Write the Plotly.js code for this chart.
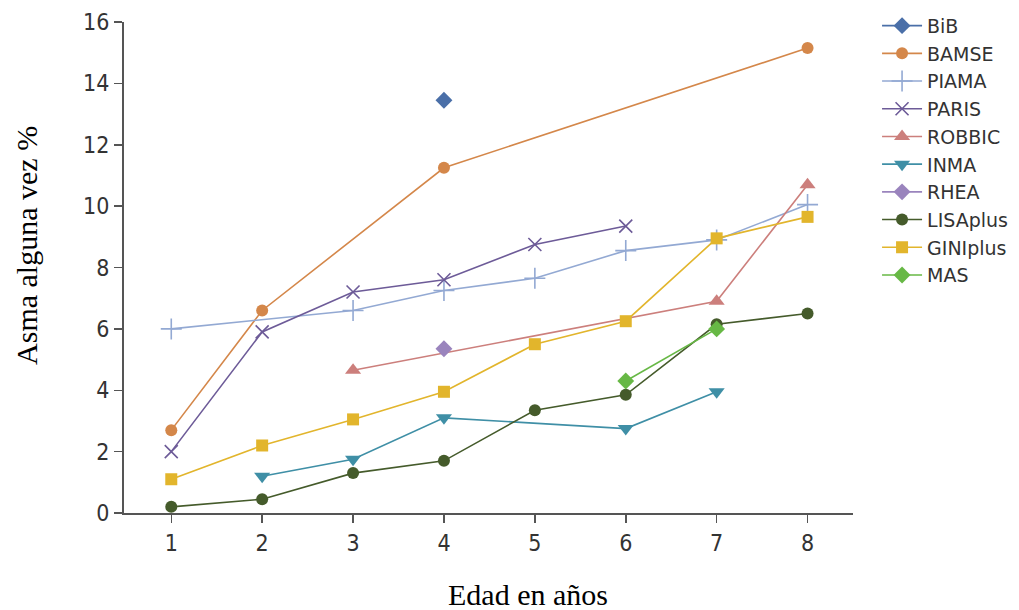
<!DOCTYPE html>
<html>
<head>
<meta charset="utf-8">
<script src="https://cdn.plot.ly/plotly-3.0.1.min.js"></script>
<style>html,body{margin:0;padding:0;background:#fff;}#chart{width:1019px;height:610px;}</style>
</head>
<body>
<div id="chart"></div>
<script>
var seriesNames = ["BiB","BAMSE","PIAMA","PARIS","ROBBIC","INMA","RHEA","LISAplus","GINIplus","MAS"];

var bibX = [4];            var bibY = [13.45];
var bamseX = [1,2,4,8];    var bamseY = [2.7,6.6,11.25,15.15];
var piamaX = [1,3,4,5,6,7,8]; var piamaY = [6.0,6.6,7.25,7.65,8.55,8.9,10.05];
var parisX = [1,2,3,4,5,6];   var parisY = [2.0,5.9,7.2,7.6,8.75,9.35];
var robbicX = [3,7,8];     var robbicY = [4.65,6.9,10.7];
var inmaX = [2,3,4,6,7];   var inmaY = [1.2,1.75,3.1,2.75,3.95];
var rheaX = [4];           var rheaY = [5.35];
var lisaX = [1,2,3,4,5,6,7,8]; var lisaY = [0.2,0.45,1.3,1.7,3.35,3.85,6.15,6.5];
var giniX = [1,2,3,4,5,6,7,8]; var giniY = [1.1,2.2,3.05,3.95,5.5,6.25,8.95,9.65];
var masX = [6,7];          var masY = [4.3,6.0];

var xTicks = [1,2,3,4,5,6,7,8];
var yTicks = [0,2,4,6,8,10,12,14,16];

var styles = [
  {c:"#4a6fa8", s:"diamond", z:13},
  {c:"#d4874a", s:"circle", z:12},
  {c:"#93a9d3", s:"cross-thin", z:15, thin:true},
  {c:"#6d5b98", s:"x-thin", z:13, thin:true},
  {c:"#cc7f7c", s:"triangle-up", z:14},
  {c:"#3f8fa6", s:"triangle-down", z:14},
  {c:"#9a84bd", s:"diamond", z:13},
  {c:"#455b2b", s:"circle", z:12},
  {c:"#e2b52c", s:"square", z:12},
  {c:"#67b845", s:"diamond", z:13}
];
var xs = [bibX,bamseX,piamaX,parisX,robbicX,inmaX,rheaX,lisaX,giniX,masX];
var ys = [bibY,bamseY,piamaY,parisY,robbicY,inmaY,rheaY,lisaY,giniY,masY];

var traces = seriesNames.map(function(n,i){
  var st = styles[i];
  var m = {symbol:st.s, size:st.z, color:st.c};
  if (st.thin) m.line = {color:st.c, width:1.6};
  return {x:xs[i], y:ys[i], name:n, type:"scatter", mode:"lines+markers",
          line:{color:st.c, width:1.6}, marker:m, cliponaxis:false};
});

var axFont = {family:"Liberation Sans Narrow, DejaVu Sans Condensed, sans-serif", size:23, color:"#333"};
var layout = {
  width:1019, height:610,
  margin:{l:124, r:166, t:22, b:97, autoexpand:false},
  paper_bgcolor:"#fff", plot_bgcolor:"#fff",
  showlegend:true,
  xaxis:{range:[0.48,8.5], tickvals:xTicks, ticktext:xTicks.map(String), showgrid:false, zeroline:false,
         showline:true, linecolor:"#555", linewidth:2, ticks:"outside", ticklen:8, tickwidth:1.5, tickcolor:"#555",
         tickfont:axFont, automargin:false},
  yaxis:{range:[0,16], tickvals:yTicks, ticktext:yTicks.map(String), showgrid:false, zeroline:false,
         showline:true, linecolor:"#555", linewidth:2, ticks:"outside", ticklen:8, tickwidth:1.5, tickcolor:"#555",
         tickfont:axFont, automargin:false},
  legend:{x:1.033, xanchor:"left", y:1.031, yanchor:"top", font:{family:"DejaVu Sans, sans-serif", size:19, color:"#333"},
          itemwidth:40, tracegroupgap:0, bgcolor:"rgba(0,0,0,0)"},
  annotations:[
    {text:"Edad en años", xref:"paper", yref:"paper", x:0.554, y:-0.167, xanchor:"center", yanchor:"middle",
     showarrow:false, font:{family:"Liberation Serif, Times New Roman, serif", size:30, color:"#000"}},
    {text:"Asma alguna vez %", xref:"paper", yref:"paper", x:-0.133, y:0.544, xanchor:"center", yanchor:"middle",
     textangle:-90, showarrow:false, font:{family:"Liberation Serif, Times New Roman, serif", size:30, color:"#000"}}
  ]
};
Plotly.newPlot("chart", traces, layout, {displayModeBar:false, staticPlot:true});
</script>
</body>
</html>
